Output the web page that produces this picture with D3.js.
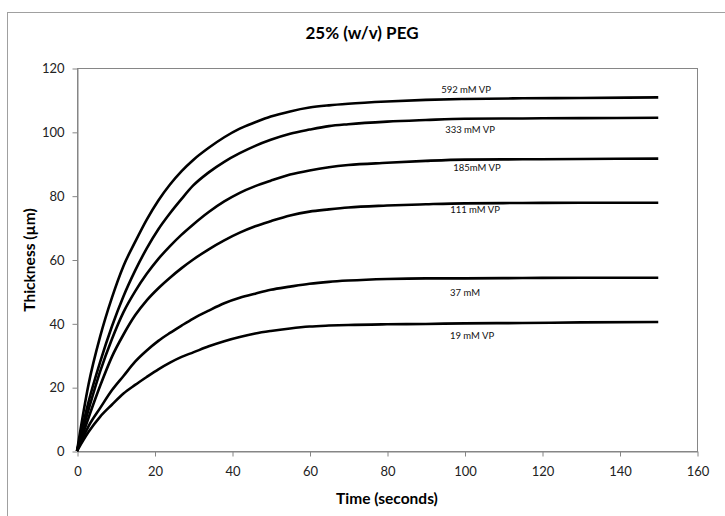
<!DOCTYPE html>
<html><head><meta charset="utf-8">
<script src="https://cdn.jsdelivr.net/npm/d3@7/dist/d3.min.js"></script>
<style>body{margin:0;background:#fff;}svg{display:block;}</style>
</head><body><svg id="c" width="725" height="516"></svg>
<script>
const times = [0,3,6,9,12,15,18,21,24,27,30,34,38,42,46,50,55,60,65,70,80,90,100,115,130,150];
const s592 = [0,21,36,48,58,65.5,72.5,78.5,83.5,87.7,91.2,95,98.3,101,103,104.8,106.4,107.6,108.3,108.8,109.5,110,110.3,110.5,110.6,110.8];
const s333 = [0,15.5,28,39,48.5,56.5,63.5,69.5,74.5,79,83.2,87.3,90.6,93.3,95.6,97.5,99.4,100.7,101.8,102.4,103.2,103.7,104.1,104.2,104.3,104.4];
const s185 = [0,13,25,35,43.5,50,55.5,60.2,64.2,67.8,71,74.9,78.2,80.9,83,84.7,86.6,87.9,88.9,89.6,90.3,90.9,91.3,91.4,91.5,91.6];
const s111 = [0,10.5,20.5,29.5,36.5,42.5,47.2,51,54.3,57.3,60,63.2,66,68.4,70.4,72,73.8,75,75.7,76.3,76.9,77.3,77.6,77.7,77.8,77.8];
const s37 = [0,7.8,13.5,19,23.5,28,31.5,34.5,37,39.3,41.5,44,46.3,48,49.3,50.5,51.5,52.4,53,53.4,53.9,54.1,54.1,54.2,54.3,54.3];
const s19 = [0,6,10.8,14.5,18,20.7,23.2,25.6,27.7,29.5,30.9,32.8,34.4,35.7,36.8,37.6,38.4,39,39.3,39.5,39.7,39.8,40,40.1,40.3,40.4];
const seriesNames = ["592 mM VP","333 mM VP","185mM VP","111 mM VP","37 mM","19 mM VP"];
const seriesVals = [s592,s333,s185,s111,s37,s19];
const xTicks = [0,20,40,60,80,100,120,140,160];
const yTicks = [0,20,40,60,80,100,120];
const title = "25% (w/v) PEG";
const xTitle = "Time (seconds)";
const yTitle = "Thickness (µm)";

const svg = d3.select("#c");
const L=77, R=697, T=68, B=451;
const x = d3.scaleLinear().domain([0,160]).range([L,R]);
const y = d3.scaleLinear().domain([0,120]).range([B,T]);
const font = "Lato, 'Open Sans', sans-serif";
const axisCol = "#868686";

svg.append("rect").attr("x",7.5).attr("y",12.5).attr("width",740).attr("height",540)
  .attr("fill","none").attr("stroke","#a0a0a0").attr("stroke-width",1);

svg.append("rect").attr("x",L+0.5).attr("y",T+0.5).attr("width",R-L).attr("height",B-T)
  .attr("fill","none").attr("stroke",axisCol).attr("stroke-width",1);

const xAxis = svg.append("g").attr("transform",`translate(0.5,${B+0.5})`)
  .call(d3.axisBottom(x).tickValues(xTicks).tickSize(5).tickSizeOuter(0).tickPadding(10));
const yAxis = svg.append("g").attr("transform",`translate(${L+0.5},0.5)`)
  .call(d3.axisLeft(y).tickValues(yTicks).tickSize(5).tickSizeOuter(0).tickPadding(8));
[xAxis,yAxis].forEach(a=>{
  a.select(".domain").attr("stroke",axisCol);
  a.selectAll(".tick line").attr("stroke",axisCol);
  a.selectAll(".tick text").attr("font-family",font).attr("font-size",13).attr("fill","#222");
});

const line = d3.line().x((d,i)=>x(times[i])).y(d=>y(d)).curve(d3.curveMonotoneX);
seriesVals.forEach(vals=>{
  svg.append("path").datum(vals).attr("d",line).attr("fill","none")
    .attr("stroke","#000").attr("stroke-width",2.6).attr("stroke-linejoin","round");
});

const lbl = [[466,91],[470,131],[477,169],[475,211],[465,294],[472,337]];
seriesNames.forEach((n,i)=>{
  svg.append("text").attr("x",lbl[i][0]).attr("y",lbl[i][1]).attr("text-anchor","middle")
    .attr("dominant-baseline","middle")
    .attr("font-family",font).attr("font-size",9.5).attr("fill","#111").text(n);
});

svg.append("text").attr("x",362).attr("y",39).attr("text-anchor","middle")
  .attr("font-family",font).attr("font-weight","bold").attr("font-size",17).text(title);
svg.append("text").attr("x",387).attr("y",504).attr("text-anchor","middle")
  .attr("font-family",font).attr("font-weight","bold").attr("font-size",15.5).text(xTitle);
svg.append("text").attr("transform","translate(35,260) rotate(-90)").attr("text-anchor","middle")
  .attr("font-family",font).attr("font-weight","bold").attr("font-size",15.5).text(yTitle);
</script></body></html>
